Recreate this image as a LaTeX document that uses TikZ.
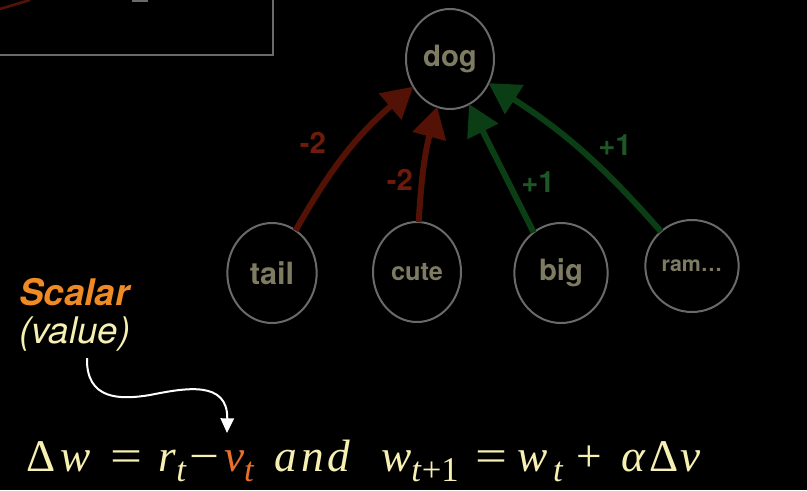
\documentclass[tikz,border=0pt]{standalone}
\usepackage{graphicx}
\usepackage{fontspec}
\setmainfont{TeX Gyre Heros}
\newfontfamily\eqfont{Liberation Serif}
\usetikzlibrary{arrows.meta,shapes.geometric}
\definecolor{nodetext}{HTML}{7D7B62}
\definecolor{ringgray}{HTML}{6A6A6A}
\definecolor{negred}{HTML}{541206}
\definecolor{negtext}{HTML}{6E1A0C}
\definecolor{posgreen}{HTML}{0B3E14}
\definecolor{postext}{HTML}{1E5726}
\definecolor{scalarorange}{HTML}{F08A24}
\definecolor{eqyellow}{HTML}{F7F0B3}
\definecolor{vorange}{HTML}{E9702B}
\newcommand{\sbt}[1]{\raisebox{-7.5pt}{\fontsize{26}{30}\selectfont #1}}
\newcommand{\weq}{\scalebox{1.25}[1]{=}}
\tikzset{
  word/.style={ellipse, draw=ringgray, line width=1.5pt, minimum width=66pt,
               minimum height=75pt, inner sep=0pt, outer sep=0pt, text=nodetext,
               font=\bfseries\fontsize{22}{26}\selectfont},
  wt/.style={-{Triangle[length=23pt,width=25pt]}, line width=4.5pt},
  loss/.style={wt, color=negred},
  gain/.style={wt, color=posgreen},
  lbl/.style={font=\bfseries\fontsize{22}{26}\selectfont, inner sep=0pt},
  hint/.style={-{Triangle[length=11pt,width=10pt]}, white, line width=1.5pt},
}
\begin{document}
\begin{tikzpicture}[x=0.75pt, y=-0.75pt]
  \fill[black] (0,0) rectangle (807,490);
  \useasboundingbox (0,0) rectangle (807,490);
  % edge of the previous slide's box
  \draw[ringgray, line width=1.5pt] (0,55) -- (273,55) -- (273,0);
  \draw[negred, line width=2pt] (0,9) .. controls (10,6) and (20,3) .. (30,0);
  \draw[ringgray, line width=1.5pt] (132,0.5) -- (148,0.5);
  % word nodes
  \node[word] (dog) at (450,59) {dog};
  \node[word, minimum width=67pt, font=\bfseries\fontsize{23}{27}\selectfont] (tail) at (272,273) {tail};
  \node[word, font=\bfseries\fontsize{19}{23}\selectfont] (cute) at (417,272) {cute};
  \node[word, minimum width=70pt] (big) at (561,273) {big};
  \node[word, minimum width=70pt, minimum height=69pt,
        font=\bfseries\fontsize{16}{19}\selectfont] (ram) at (692,266) {ram…};
  % weights
  \draw[loss] (tail.61) to[bend left=10] (dog.217);
  \draw[loss] (cute.88) to[bend left=6] (dog.255);
  \draw[gain] (big.124) -- (dog.293);
  \draw[gain] (ram.132) to[bend right=8] (dog.328);
  \node[lbl, text=negtext] (wtail) at (313,143) {-2};
  \node[lbl, text=negtext] (wcute) at (400,180) {-2};
  \node[lbl, text=postext] (wbig) at (538,182) {+1};
  \node[lbl, text=postext] (wram) at (615,145) {+1};
  % scalar note
  \node[anchor=base west, inner sep=0pt, text=scalarorange,
        font=\bfseries\itshape\fontsize{27.5}{32}\selectfont] (scalar) at (19,305) {Scalar};
  \node[anchor=base west, inner sep=0pt, text=eqyellow,
        font=\itshape\fontsize{27.5}{32}\selectfont] (value) at (19,343) {(value)};
  \coordinate (hs) at (87,358);
  \coordinate (he) at (227,433);
  \draw[hint] (hs) .. controls (86,400) and (120,400) .. (150,395)
    .. controls (185,388) and (228,380) .. (he);
  % update rule
  \node[anchor=base west, inner sep=0pt, text=eqyellow] (rule) at (26,471)
    {\eqfont\fontsize{34}{40}\selectfont Δ\hspace{3.75pt}\textit{w}\hspace{15pt}\weq\hspace{12pt}%
     \textit{r}\sbt{\textit{t}}\hspace{1.8pt}\scalebox{1.17}[1]{−}\hspace{3.75pt}%
     \textcolor{vorange}{\textit{v}\sbt{\textit{t}}}\hspace{15pt}\textit{a\hspace{3pt}n\hspace{3pt}d}%
     \hspace{23pt}\textit{w}\sbt{\textit{t}+1}\hspace{12.75pt}\weq\hspace{7.5pt}%
     \textit{w}\hspace{4pt}\sbt{\textit{t}}\hspace{9.75pt}+\hspace{14.25pt}%
     \textit{α}\hspace{3pt}Δ\hspace{1.5pt}\textit{v}};
\end{tikzpicture}
\end{document}
